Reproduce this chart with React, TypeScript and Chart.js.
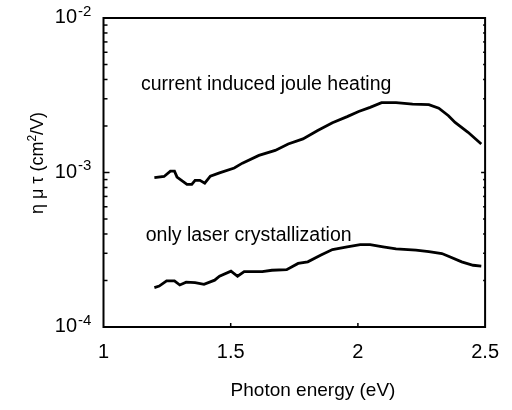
import React, { useEffect, useRef } from "react";
import { Chart, registerables } from "chart.js";

Chart.register(...registerables);

const FONT = "'Liberation Sans', Arial, Helvetica, sans-serif";

// Photon energy (eV) and eta*mu*tau (cm^2/V)
const jouleEnergy = [1.2, 1.238, 1.263, 1.279, 1.289, 1.328, 1.347, 1.36, 1.379, 1.398, 1.42, 1.456, 1.514, 1.546, 1.611, 1.675, 1.726, 1.784, 1.842, 1.9, 1.958, 2.003, 2.048, 2.093, 2.15, 2.215, 2.279, 2.318, 2.356, 2.382, 2.433, 2.485];
const jouleValues = [9.25e-4, 9.42e-4, 1.02e-3, 1.02e-3, 9.33e-4, 8.38e-4, 8.38e-4, 8.9e-4, 8.9e-4, 8.53e-4, 9.46e-4, 9.95e-4, 1.07e-3, 1.15e-3, 1.29e-3, 1.39e-3, 1.53e-3, 1.65e-3, 1.87e-3, 2.1e-3, 2.3e-3, 2.48e-3, 2.64e-3, 2.83e-3, 2.83e-3, 2.77e-3, 2.75e-3, 2.61e-3, 2.33e-3, 2.11e-3, 1.82e-3, 1.53e-3];

const laserEnergy = [1.2, 1.219, 1.248, 1.279, 1.3, 1.325, 1.36, 1.395, 1.437, 1.456, 1.501, 1.527, 1.553, 1.624, 1.662, 1.72, 1.765, 1.803, 1.855, 1.9, 1.958, 2.009, 2.048, 2.099, 2.15, 2.228, 2.279, 2.33, 2.356, 2.408, 2.453, 2.485];
const laserValues = [1.8e-4, 1.84e-4, 1.99e-4, 1.99e-4, 1.87e-4, 1.95e-4, 1.94e-4, 1.89e-4, 2.01e-4, 2.13e-4, 2.3e-4, 2.13e-4, 2.28e-4, 2.28e-4, 2.33e-4, 2.35e-4, 2.58e-4, 2.64e-4, 2.92e-4, 3.17e-4, 3.3e-4, 3.41e-4, 3.41e-4, 3.3e-4, 3.2e-4, 3.14e-4, 3.08e-4, 2.99e-4, 2.87e-4, 2.64e-4, 2.51e-4, 2.48e-4];

const yDecades = [1e-4, 1e-3, 1e-2];
const yDecadeExponents = ["-4", "-3", "-2"];
const xMinorTicks = [1.5, 2];

const annotationTexts = ["current induced joule heating", "only laser crystallization"];
const annotationX = [1.147, 1.166];
const annotationY = [3.44e-3, 3.62e-4];

const xTitle = "Photon energy (eV)";

const overlayPlugin = {
  id: "overlay",
  afterDraw(chart: any) {
    const { ctx, chartArea } = chart;
    const xs = chart.scales.x;
    const ys = chart.scales.y;
    const { left, right, top, bottom } = chartArea;
    ctx.save();
    ctx.strokeStyle = "#000";
    ctx.fillStyle = "#000";
    ctx.lineWidth = 2;
    ctx.strokeRect(left, top, right - left, bottom - top);

    // y ticks (inside)
    ctx.lineWidth = 1.5;
    for (let d = 0; d < yDecades.length; d++) {
      const base = yDecades[d];
      for (let m = 1; m <= 9; m++) {
        const v = base * m;
        if (v > 1e-2 + 1e-12) continue;
        const py = ys.getPixelForValue(v);
        const len = m === 1 ? 6 : 4;
        ctx.beginPath();
        ctx.moveTo(left, py);
        ctx.lineTo(left + len, py);
        ctx.stroke();
        ctx.beginPath();
        ctx.moveTo(right, py);
        ctx.lineTo(right - (m === 1 ? 4 : 2), py);
        ctx.stroke();
      }
    }
    // x ticks (inside)
    for (const t of xMinorTicks) {
      const px = xs.getPixelForValue(t);
      ctx.beginPath();
      ctx.moveTo(px, bottom);
      ctx.lineTo(px, bottom - 4);
      ctx.stroke();
    }

    // y tick labels 10^n
    ctx.textBaseline = "alphabetic";
    for (let i = 0; i < yDecades.length; i++) {
      const py = ys.getPixelForValue(yDecades[i]);
      ctx.font = `20px ${FONT}`;
      ctx.textAlign = "right";
      ctx.fillText("10", 77, py + 5);
      ctx.font = `15px ${FONT}`;
      ctx.textAlign = "left";
      ctx.fillText(yDecadeExponents[i], 78, py - 2.5);
    }

    // annotations
    ctx.font = `19.5px ${FONT}`;
    ctx.textAlign = "left";
    for (let i = 0; i < annotationTexts.length; i++) {
      ctx.fillText(annotationTexts[i], xs.getPixelForValue(annotationX[i]), ys.getPixelForValue(annotationY[i]));
    }

    // x title
    ctx.font = `19px ${FONT}`;
    ctx.textAlign = "center";
    ctx.fillText(xTitle, 313, 396);

    // y title (rotated) with superscript
    ctx.translate(43, 163);
    ctx.rotate(-Math.PI / 2);
    const part1 = "\u03B7 \u03BC \u03C4 (cm";
    const sup = "2";
    const part2 = "/V)";
    ctx.font = `18px ${FONT}`;
    const w1 = ctx.measureText(part1).width;
    const w3 = ctx.measureText(part2).width;
    ctx.font = `12px ${FONT}`;
    const w2 = ctx.measureText(sup).width;
    const total = w1 + w2 + w3;
    let x0 = -total / 2;
    ctx.textAlign = "left";
    ctx.font = `18px ${FONT}`;
    ctx.fillText(part1, x0, 0);
    x0 += w1;
    ctx.font = `12px ${FONT}`;
    ctx.fillText(sup, x0, -7);
    x0 += w2;
    ctx.font = `18px ${FONT}`;
    ctx.fillText(part2, x0, 0);
    ctx.restore();
  },
};

export default function App() {
  const ref = useRef<HTMLCanvasElement | null>(null);
  useEffect(() => {
    if (!ref.current) return;
    const chart = new Chart(ref.current, {
      type: "line",
      data: {
        datasets: [
          {
            label: annotationTexts[0],
            data: jouleEnergy.map((x, i) => ({ x, y: jouleValues[i] })),
            borderColor: "#000",
            borderWidth: 2.8,
            pointRadius: 0,
            tension: 0,
          },
          {
            label: annotationTexts[1],
            data: laserEnergy.map((x, i) => ({ x, y: laserValues[i] })),
            borderColor: "#000",
            borderWidth: 2.8,
            pointRadius: 0,
            tension: 0,
          },
        ],
      },
      options: {
        animation: false,
        responsive: false,
        layout: { padding: { left: 103.5, right: 18, top: 18, bottom: 0 } },
        plugins: { legend: { display: false }, tooltip: { enabled: false } },
        scales: {
          x: {
            type: "linear",
            min: 1,
            max: 2.5,
            grid: { display: false, drawTicks: false },
            border: { display: false },
            ticks: {
              stepSize: 0.5,
              color: "#000",
              padding: 13,
              font: { size: 20, family: FONT },
              maxRotation: 0,
              callback: (v: any) => `${Number(v)}`,
            },
            afterFit: (s: any) => {
              s.height = 83;
            },
          },
          y: {
            type: "logarithmic",
            min: 1e-4,
            max: 1e-2,
            display: false,
          },
        },
      },
      plugins: [overlayPlugin],
    });
    return () => chart.destroy();
  }, []);
  return (
    <div style={{ position: "absolute", left: 0, top: 0, width: 512, height: 410, background: "#fff" }}>
      <canvas ref={ref} width={512} height={410} style={{ display: "block" }} />
    </div>
  );
}
